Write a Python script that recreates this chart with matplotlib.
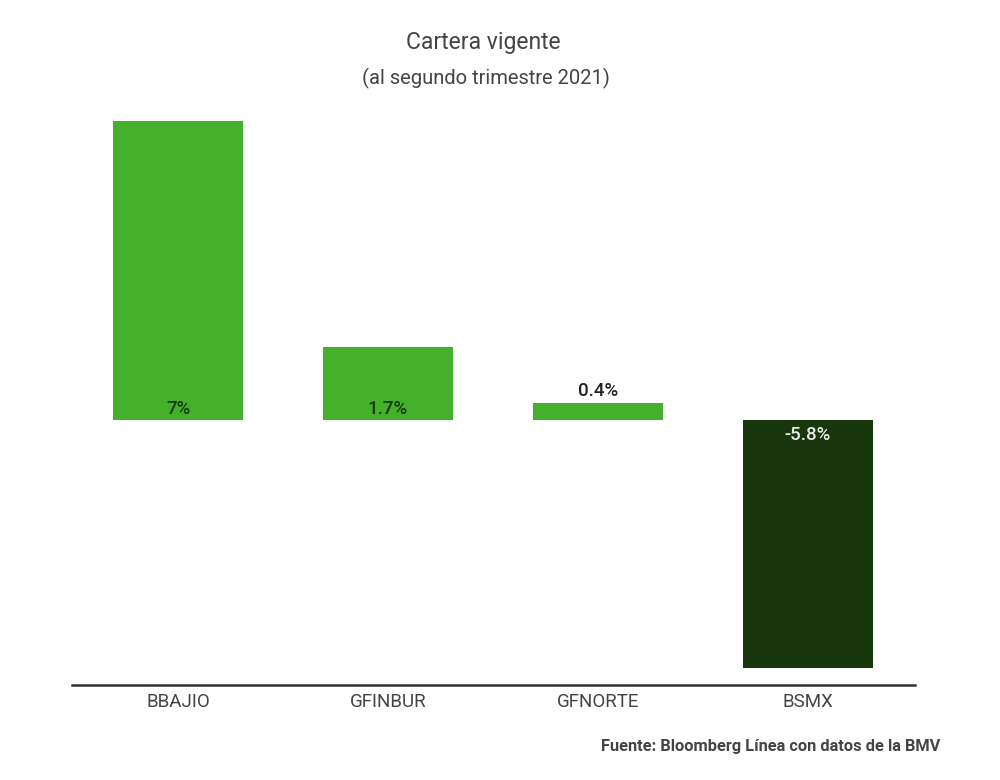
import matplotlib
matplotlib.use("Agg")
import matplotlib.pyplot as plt

categories = ["BBAJIO", "GFINBUR", "GFNORTE", "BSMX"]
values = [7.0, 1.7, 0.4, -5.8]
labels = ["7%", "1.7%", "0.4%", "-5.8%"]

plt.rcParams['font.family'] = ['Roboto', 'DejaVu Sans']

fig = plt.figure(figsize=(10, 7.8), dpi=100)
ax = fig.add_axes([0.072, 0.1218, 0.843, 0.7231])

colors = ["#44b02b" if v >= 0 else "#18370c" for v in values]
x = list(range(len(categories)))
ax.bar(x, values, width=0.62, color=colors)

ax.set_xlim(-0.505, 3.51)
ax.set_ylim(-6.2, 7.0)

for i, (v, lab) in enumerate(zip(values, labels)):
    if v >= 1:
        ax.text(i, 0.06, lab, ha="center", va="bottom", fontsize=13.5, color="#163a0b", fontweight="medium")
    elif v >= 0:
        ax.text(i, v + 0.08, lab, ha="center", va="bottom", fontsize=13.5, color="#222222", fontweight="medium")
    else:
        ax.text(i, -0.15, lab, ha="center", va="top", fontsize=13.5, color="#e8ece6", fontweight="medium")

for s in ["top", "right", "left"]:
    ax.spines[s].set_visible(False)
ax.spines["bottom"].set_color("#333333")
ax.spines["bottom"].set_linewidth(1.8)
ax.set_yticks([])
ax.set_xticks(x)
ax.set_xticklabels(categories, fontsize=13.5, color="#444444")
ax.tick_params(axis="x", length=0, pad=6)

fig.text(0.483, 0.945, "Cartera vigente", ha="center", va="center", fontsize=16.5, color="#444444")
fig.text(0.486, 0.899, "(al segundo trimestre 2021)", ha="center", va="center", fontsize=14.5, color="#444444")
fig.text(0.940, 0.043, "Fuente: Bloomberg Línea con datos de la BMV", ha="right", va="center",
         fontsize=11.8, fontweight="bold", color="#444444")

fig.savefig("out.png", dpi=100, facecolor="white")
